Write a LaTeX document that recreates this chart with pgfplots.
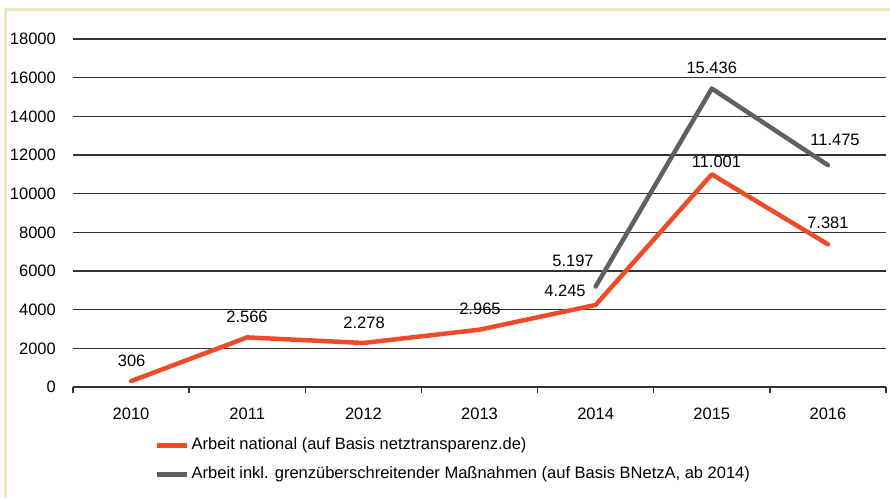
\documentclass[border=0pt]{standalone}
\usepackage{pgfplots}
\pgfplotsset{compat=1.18}
\usepackage{fontspec}
\setmainfont{Liberation Sans}
\definecolor{redline}{HTML}{EE4B2B}
\definecolor{grayline}{HTML}{5E6062}
\definecolor{beige}{HTML}{F0E5C4}
\definecolor{gridc}{HTML}{333333}
\newcommand{\f}{\fontsize{16.5}{19}\selectfont}
\begin{document}
\begin{tikzpicture}[font=\f]
\useasboundingbox (0,0) rectangle (890pt,-498pt);
\fill[white] (0,0) rectangle (890pt,-498pt);
\draw[beige, line width=2.7pt] (5.3pt,-498pt) -- (5.3pt,-9.6pt) -- (890pt,-9.6pt);
\begin{axis}[
  at={(73pt,-387pt)}, anchor=south west,
  scale only axis, width=813pt, height=348pt,
  xmin=-0.5, xmax=6.5, ymin=0, ymax=18000,
  axis lines*=left,
  x axis line style={line width=1.3pt, gridc},
  y axis line style={draw=none},
  ytick={0,2000,...,18000},
  scaled y ticks=false,
  ytick style={draw=none},
  ymajorgrids, grid style={line width=1.3pt, gridc},
  xtick={-0.5,0.5,...,6.5},
  x tick label as interval,
  xticklabels={2010,2011,2012,2013,2014,2015,2016},
  tick align=outside, major tick length=6pt,
  xtick style={line width=1.3pt, gridc},
  /pgf/number format/assume math mode=true,
  /pgf/number format/set thousands separator={},
  tick label style={font=\f, inner sep=0pt},
  yticklabel style={xshift=-11pt},
  xticklabel style={yshift=-15pt},
  clip=false,
  legend style={font=\f, draw=none, fill=none, at={(0.096,-0.14)}, anchor=north west,
    nodes={inner sep=0pt, text height=11.5pt, text depth=3.5pt},
    row sep=14pt, /tikz/every odd column/.append style={column sep=2.5pt}},
  legend cell align=left,
  legend image code/.code={\draw[#1, line width=5pt, line cap=butt] (0pt,0pt) -- (30pt,0pt);},
]
\addplot[redline, line width=4.5pt, line cap=round, line join=round] coordinates {
  (0,306) (1,2566) (2,2278) (3,2965) (4,4245) (5,11001) (6,7381)};
\addlegendentry{Arbeit national (auf Basis netztransparenz.de)}
\addplot[grayline, line width=4.5pt, line cap=round, line join=round] coordinates {
  (4,5197) (5,15436) (6,11475)};
\addlegendentry{Arbeit inkl. grenzüberschreitender Maßnahmen (auf Basis BNetzA, ab 2014)}
\node at (axis cs:0.005,1360) {306};
\node at (axis cs:0.998,3636) {2.566};
\node at (axis cs:2.006,3310) {2.278};
\node at (axis cs:3.004,4034) {2.965};
\node at (axis cs:3.736,4981) {4.245};
\node at (axis cs:3.805,6533) {5.197};
\node at (axis cs:5.0,16484) {15.436};
\node at (axis cs:5.04,11653) {11.001};
\node at (axis cs:6.061,12776) {11.475};
\node at (axis cs:6.0,8483) {7.381};
\end{axis}
\end{tikzpicture}
\end{document}
